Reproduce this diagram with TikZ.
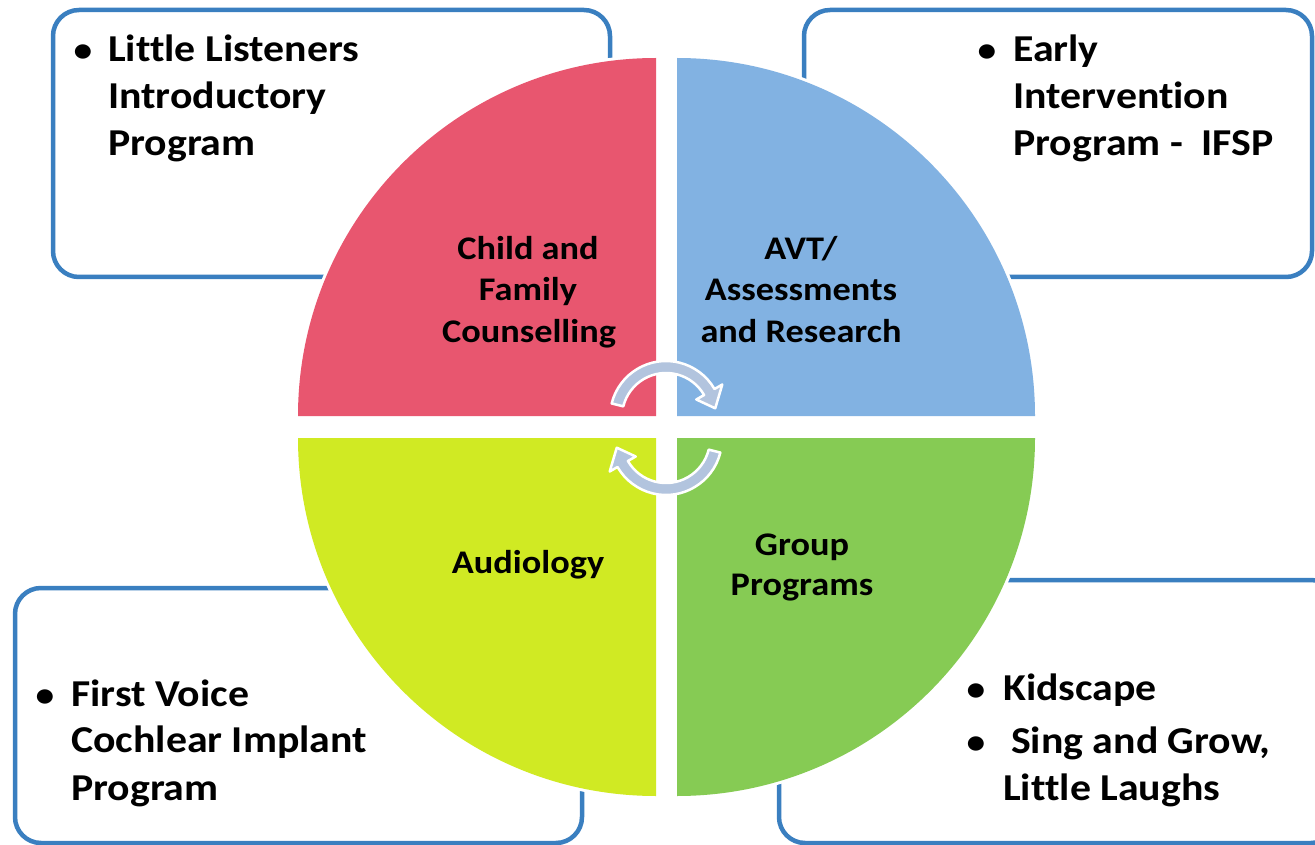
\documentclass[tikz,border=0pt]{standalone}
\usepackage{fontspec}
\setmainfont{Carlito}[FakeStretch=1.1, Ligatures=NoCommon]
\definecolor{boxblue}{HTML}{3A7FC0}
\definecolor{segred}{HTML}{E8566F}
\definecolor{segblue}{HTML}{82B2E2}
\definecolor{seglime}{HTML}{D0EA23}
\definecolor{seggreen}{HTML}{86CB54}
\definecolor{arrowblue}{HTML}{B2C4DE}
\begin{document}
\begin{tikzpicture}[x=1pt,y=-1pt,
  panel/.style={draw=boxblue, line width=4.5pt, fill=white, rounded corners=26pt,
    anchor=north west, inner sep=0pt, outer sep=0pt},
  itemtext/.style={anchor=base west, inner sep=0pt, font=\fontsize{38}{47}\selectfont\bfseries},
  bulletmark/.style={anchor=base, inner sep=0pt, font=\fontsize{34}{47}\selectfont\bfseries},
  seglabel/.style={anchor=base, inner sep=0pt, font=\fontsize{33}{41}\selectfont\bfseries},
  halo/.style={draw=white, line width=6pt},
  cycler/.style={fill=arrowblue, draw=white, line width=2.5pt, line join=round}]
\useasboundingbox (0,0) rectangle (1315,845);
\clip (0,0) rectangle (1315,845);

% outer program boxes (behind the wheel)
\node[panel, minimum width=557pt, minimum height=267pt] (boxtl) at (53,10) {};
\node[panel, minimum width=508pt, minimum height=267pt] (boxtr) at (804,10) {};
\node[panel, minimum width=567pt, minimum height=255pt] (boxbl) at (15,588) {};
\node[panel, minimum width=558pt, minimum height=263pt] (boxbr) at (779,580) {};

% four quadrants of the wheel
\path[halo] (656,416) -- ++(-358,0) arc[start angle=180, end angle=270, radius=358] -- cycle;
\fill[segred] (656,416) -- ++(-358,0) arc[start angle=180, end angle=270, radius=358] -- cycle;
\path[halo] (677,416) -- ++(0,-358) arc[start angle=270, end angle=360, radius=358] -- cycle;
\fill[segblue] (677,416) -- ++(0,-358) arc[start angle=270, end angle=360, radius=358] -- cycle;
\path[halo] (677,438) -- ++(358,0) arc[start angle=0, end angle=90, radius=358] -- cycle;
\fill[seggreen] (677,438) -- ++(358,0) arc[start angle=0, end angle=90, radius=358] -- cycle;
\path[halo] (656,438) -- ++(0,358) arc[start angle=90, end angle=180, radius=358] -- cycle;
\fill[seglime] (656,438) -- ++(0,358) arc[start angle=90, end angle=180, radius=358] -- cycle;

% circular arrows in the middle
\begin{scope}[shift={(666,417)}, yscale=-1]
  \path[cycler] (166:56) arc[start angle=166, end angle=30, radius=56]
    -- (30:65) -- (10:50) -- (30:35) -- (30:44)
    arc[start angle=30, end angle=166, radius=44] -- cycle;
\end{scope}
\begin{scope}[shift={(666,439)}, yscale=-1, rotate=180]
  \path[cycler] (166:56) arc[start angle=166, end angle=30, radius=56]
    -- (30:65) -- (10:50) -- (30:35) -- (30:44)
    arc[start angle=30, end angle=166, radius=44] -- cycle;
\end{scope}

% quadrant labels
\node[seglabel] (cf1) at (528,259) {Child and};
\node[seglabel] (cf2) at (528,301) {Family};
\node[seglabel] (cf3) at (529,342) {Counselling};
\node[seglabel] (av1) at (801,259) {AVT/};
\node[seglabel] (av2) at (801,301) {Assessments};
\node[seglabel] (av3) at (801,342) {and Research};
\node[seglabel] (au1) at (528,573) {Audiology};
\node[seglabel] (gp1) at (802,555) {Group};
\node[seglabel] (gp2) at (802,595) {Programs};

% top left box
\node[bulletmark] (tlb) at (83,62) {•};
\node[itemtext] (tl1) at (108,62) {Little Listeners};
\node[itemtext] (tl2) at (108,109) {Introductory};
\node[itemtext] (tl3) at (108,156) {Program};

% top right box
\node[bulletmark] (trb) at (987,62) {•};
\node[itemtext] (tr1) at (1013,62) {Early};
\node[itemtext] (tr2) at (1013,109) {Intervention};
\node[itemtext] (tr3) at (1013,156) {Program -\ \ IFSP};

% bottom left box
\node[bulletmark] (blb) at (45,706) {•};
\node[itemtext] (bl1) at (71,706) {First Voice};
\node[itemtext] (bl2) at (71,752) {Cochlear Implant};
\node[itemtext] (bl3) at (71,800) {Program};

% bottom right box
\node[bulletmark] (brb1) at (976,700) {•};
\node[itemtext] (br1) at (1003,700) {Kidscape};
\node[bulletmark] (brb2) at (976,753) {•};
\node[itemtext] (br2) at (1011,753) {Sing and Grow,};
\node[itemtext] (br3) at (1003,800) {Little Laughs};
\end{tikzpicture}
\end{document}
